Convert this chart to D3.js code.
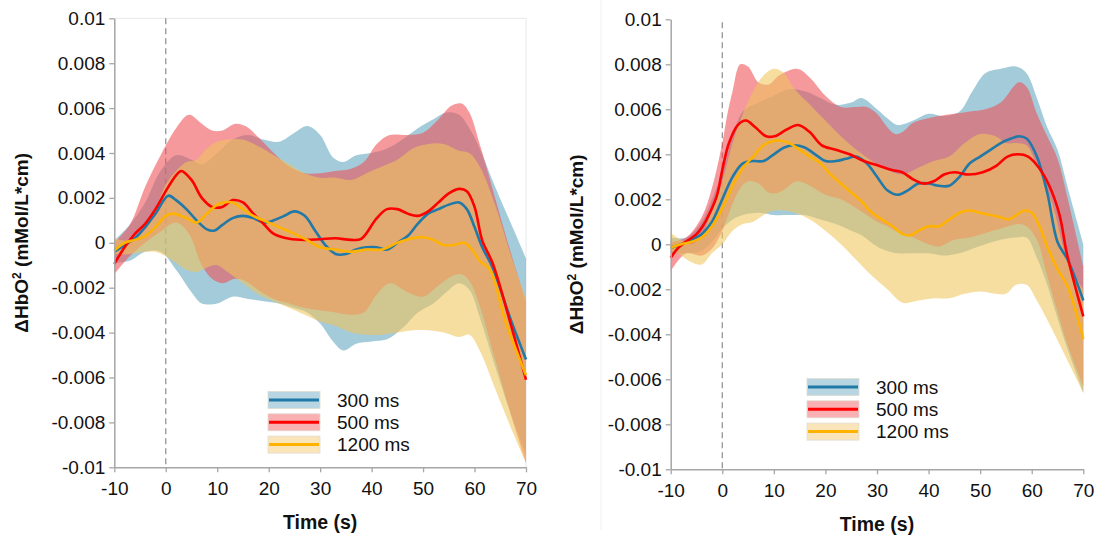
<!DOCTYPE html>
<html>
<head>
<meta charset="utf-8">
<script src="https://cdn.jsdelivr.net/npm/d3@7"></script>
<style>
  body { margin: 0; background: #fff; }
  svg { display: block; font-family: "Liberation Sans", Arial, sans-serif; }
</style>
</head>
<body>
<svg id="chart" width="1097" height="536"></svg>
<script>
// ---- data: [time, value] for means, [time, low, high] for bands ----
const seriesNames = ["300 ms", "500 ms", "1200 ms"];
const xTicks = [-10, 0, 10, 20, 30, 40, 50, 60, 70];
const yTicks = [0.01, 0.008, 0.006, 0.004, 0.002, 0, -0.002, -0.004, -0.006, -0.008, -0.01];

// left panel
const leftMean300 = [[-10,-0.0004],[-8,-0.0001],[-6,0.0002],[-4,0.0007],[-2,0.0013],[0.5,0.0021],[2,0.0019],[4,0.0015],[6,0.001],[8,0.0006],[9.5,0.00055],[11,0.0008],[13,0.0011],[15,0.0012],[17,0.0011],[19,0.0009],[21,0.001],[23,0.0012],[25,0.0014],[27,0.0012],[29,0.00055],[31,-0.0001],[33,-0.0005],[35,-0.0005],[37,-0.0003],[39,-0.0002],[41,-0.0002],[43,-0.0003],[45,0],[47,0.0003],[49,0.00085],[51,0.0013],[53,0.0015],[55,0.0017],[57,0.0018],[58.5,0.0015],[60,0.0007],[61.5,-0.0002],[63.5,-0.0011],[67,-0.0034],[70,-0.0052]];
const leftMean500 = [[-10,-0.00094],[-8,-0.0002],[-6,0.0004],[-4,0.00085],[-2,0.0015],[0,0.0023],[2,0.003],[3,0.0032],[5,0.0028],[7,0.002],[9,0.0016],[11,0.0016],[13,0.0019],[15,0.0018],[17,0.0013],[19,0.00085],[21,0.0004],[24,0.00018],[27,0.00013],[30,0.00016],[33,0.0002],[36,0.00013],[38,0.00018],[41,0.0011],[43,0.0015],[45,0.0015],[47,0.0013],[49,0.0012],[51,0.0014],[53,0.0018],[55,0.0022],[57,0.0024],[58.5,0.0023],[60,0.0016],[61.5,0.0001],[63.5,-0.0009],[67,-0.0036],[70,-0.0061]];
const leftMean1200 = [[-10,-0.00035],[-8,0],[-6,0.00013],[-4,0.0003],[-2,0.0007],[0,0.0012],[1.5,0.0013],[4,0.0011],[6,0.0009],[8,0.0013],[10,0.0017],[11.5,0.0018],[13,0.0018],[15,0.0015],[17,0.0012],[19,0.001],[21,0.0008],[23,0.0006],[25,0.0004],[27,0.00018],[30,-0.0002],[33,-0.0003],[36,-0.0004],[39,-0.0003],[42,-0.0003],[45,0],[48,0.0002],[50,0.00025],[52,0.00013],[54,-0.0001],[56,-0.0001],[58,0],[59.5,-0.0003],[61,-0.0008],[63,-0.0012],[66,-0.0035],[70,-0.0059]];
const leftBand300 = [[-10,-0.0009,0.0001],[-7,-0.0008,0.0008],[-4,-0.0004,0.0018],[-1,-0.0004,0.0032],[2,-0.0012,0.0039],[5,-0.0022,0.0037],[7,-0.0027,0.0035],[10,-0.0027,0.004],[13,-0.0024,0.0046],[16,-0.0025,0.0048],[19,-0.0026,0.0046],[22,-0.0027,0.0045],[25,-0.0029,0.0049],[27.5,-0.0031,0.0052],[30,-0.0036,0.0048],[32.5,-0.0044,0.0038],[34.5,-0.0048,0.0036],[37,-0.0045,0.0039],[40,-0.0044,0.004],[43,-0.0043,0.0042],[46,-0.0038,0.0046],[49,-0.0031,0.0051],[52,-0.0027,0.0055],[54.5,-0.0022,0.0058],[57,-0.0018,0.0057],[59,-0.0021,0.0051],[61,-0.0033,0.0042],[64,-0.0055,0.0025],[67,-0.0076,0.0009],[70,-0.0094,-0.0007]];
const leftBand500 = [[-10,-0.0014,0],[-7,-0.0006,0.0008],[-4,0,0.0025],[-1,0.0005,0.0039],[2,0.0009,0.0051],[4.5,0.0004,0.0057],[7,-0.001,0.0053],[9,-0.0016,0.005],[11,-0.0018,0.005],[13.5,-0.0016,0.0053],[15.5,-0.0017,0.0052],[18,-0.0021,0.0047],[21,-0.0025,0.004],[24,-0.0027,0.0034],[27,-0.0029,0.0031],[30,-0.003,0.0031],[33,-0.0031,0.0032],[36,-0.0032,0.0033],[38.5,-0.0031,0.0036],[41,-0.0023,0.0044],[43.5,-0.0018,0.0048],[47,-0.0022,0.0048],[50,-0.0024,0.0049],[53,-0.0019,0.0055],[55.5,-0.0015,0.0061],[57.5,-0.0014,0.0062],[59,-0.0017,0.0058],[61,-0.0028,0.0044],[64,-0.0052,0.002],[67,-0.0076,-0.0004],[70,-0.0098,-0.0026]];
const leftBand1200 = [[-10,-0.0005,0.0002],[-7,-0.0005,0.0001],[-4,-0.0004,0.0006],[-2,-0.0004,0.0015],[0,-0.0006,0.0026],[2,-0.0009,0.0032],[4,-0.0012,0.0036],[6,-0.0013,0.0037],[8,-0.0011,0.0042],[10,-0.001,0.0045],[12,-0.0013,0.0046],[15,-0.0018,0.0046],[18,-0.0023,0.0043],[21,-0.0026,0.0039],[24,-0.0029,0.0035],[27,-0.0032,0.0031],[30,-0.0035,0.0029],[33,-0.0037,0.0029],[36,-0.004,0.0028],[39,-0.0041,0.0031],[42,-0.0041,0.0034],[45,-0.004,0.0037],[48,-0.0039,0.0042],[51,-0.0039,0.0044],[54,-0.004,0.0044],[57,-0.0042,0.0041],[59,-0.0041,0.004],[61,-0.0048,0.0034],[64,-0.0065,0.0017],[67,-0.0082,-0.0005],[70,-0.0098,-0.0025]];

// right panel
const rightMean300 = [[-10,-0.00015],[-8,0],[-6,0.0002],[-4,0.00045],[-2,0.001],[0,0.002],[2,0.003],[4,0.0036],[6,0.0037],[8,0.0037],[10,0.004],[12,0.0043],[14,0.0044],[16,0.0043],[18,0.004],[20,0.0037],[22,0.0037],[24,0.0038],[26,0.0039],[28,0.0036],[30,0.003],[32,0.0024],[34,0.0022],[36,0.0024],[38,0.0027],[40,0.0027],[42,0.0026],[44,0.0026],[46,0.003],[48,0.0036],[50,0.0039],[52,0.0042],[54,0.0045],[56,0.0047],[57.5,0.0048],[59,0.0047],[61,0.0039],[63,0.0023],[65,0.0001],[67,-0.0007],[70,-0.0025]];
const rightMean500 = [[-10,-0.0006],[-8.5,-0.00015],[-6.5,0.0002],[-5,0.00045],[-3.8,0.0008],[-2.4,0.0014],[-1,0.0022],[0,0.0033],[1.3,0.0045],[3,0.0053],[4.6,0.0055],[6.4,0.0052],[8.5,0.0048],[10.1,0.0048],[12.5,0.0051],[14.7,0.0053],[16.9,0.005],[19.3,0.0044],[22,0.0042],[24.7,0.004],[27.4,0.0037],[30.2,0.0035],[32.9,0.0033],[34.9,0.0032],[36.9,0.0029],[39,0.0027],[41,0.0028],[43,0.0031],[45,0.0032],[47.8,0.0031],[50.5,0.0032],[53.2,0.0035],[55.3,0.0039],[57.3,0.004],[59.3,0.0039],[61.4,0.0034],[63.4,0.0026],[65.4,0.0013],[66.8,-0.0004],[70,-0.0032]];
const rightMean1200 = [[-10,-0.00015],[-8,0],[-6,0.0001],[-4,0.0003],[-2,0.0008],[0,0.0016],[2,0.0026],[4,0.0034],[6,0.0039],[8,0.0044],[10,0.0046],[11.5,0.0046],[13,0.0045],[15,0.0042],[17,0.0039],[19,0.0036],[21,0.0031],[23,0.0027],[25,0.0023],[27,0.0019],[29,0.0014],[31,0.0011],[33,0.0008],[35,0.00045],[36.5,0.0004],[38,0.0006],[40,0.0008],[42,0.0008],[44,0.0011],[46,0.0014],[48,0.0015],[50,0.0014],[52,0.0013],[54,0.0012],[55.5,0.0011],[57,0.0013],[58.5,0.0015],[60,0.0014],[61.5,0.0008],[63,-0.0001],[65,-0.0011],[67,-0.0019],[70,-0.0042]];
const rightBand300 = [[-10,-0.0004,0.0003],[-7,-0.0004,0.0003],[-4,-0.0003,0.001],[-2,0.0001,0.002],[0,0.0007,0.0032],[2,0.0011,0.0048],[4,0.0013,0.0059],[7,0.0014,0.0063],[10,0.0013,0.0066],[13,0.0013,0.0069],[16,0.0013,0.0068],[19,0.0011,0.0065],[22,0.0009,0.0062],[25,0.0006,0.0063],[27,0.0004,0.0065],[30,-0.0001,0.006],[32,-0.0003,0.0056],[34,-0.0004,0.0053],[37,-0.0004,0.0055],[40,-0.0004,0.0058],[43,-0.0005,0.0057],[46,-0.0004,0.0059],[48.5,-0.0002,0.0068],[51,0,0.0076],[54,0.0002,0.0078],[57,0.0003,0.0079],[59,0.0003,0.0076],[61,-0.0006,0.0065],[63,-0.0018,0.0052],[65,-0.0033,0.0042],[67,-0.0047,0.0025],[70,-0.0066,0]];
const rightBand500 = [[-10,-0.0012,0.0001],[-7,-0.0004,0.0003],[-4,-0.0005,0.0012],[-2,-0.0002,0.0025],[0,0.0006,0.0045],[1,0.0012,0.0058],[2,0.0018,0.0068],[3.5,0.0025,0.008],[5,0.0028,0.0079],[7,0.0027,0.0072],[9,0.0023,0.0071],[11,0.0023,0.0075],[14.5,0.0028,0.0078],[17,0.0026,0.0074],[20,0.0022,0.0066],[23,0.002,0.0061],[26,0.0016,0.0061],[28,0.0013,0.0061],[30,0.001,0.0058],[32,0.0008,0.0052],[33.5,0.0006,0.0049],[35,0.0005,0.005],[37,0.0003,0.0054],[40,0,0.0056],[42,-0.0001,0.0057],[45,0.0002,0.0058],[48,0.0003,0.0059],[51,0.0005,0.006],[54,0.0007,0.0063],[57.5,0.0009,0.0072],[59,0.0008,0.007],[61,0.0002,0.0058],[63,-0.0014,0.0048],[65,-0.003,0.0038],[67,-0.0045,0.002],[70,-0.0063,-0.001]];
const rightBand1200 = [[-10,-0.0003,0.0005],[-8,-0.0005,0.0002],[-6,-0.0008,0],[-4,-0.0009,0.0004],[-2,-0.0004,0.0015],[0,0,0.0028],[2,0.0006,0.0045],[4,0.0009,0.0058],[6,0.001,0.0068],[8,0.0013,0.0075],[10,0.0015,0.0078],[12,0.0015,0.0076],[14,0.0014,0.0069],[17,0.0011,0.0062],[20,0.0006,0.0055],[23,0,0.0048],[26,-0.0007,0.0042],[29,-0.0014,0.0037],[32,-0.002,0.0033],[35,-0.0026,0.0031],[38,-0.0025,0.0034],[41,-0.0024,0.0037],[44,-0.0024,0.0039],[47,-0.0022,0.0045],[50,-0.0021,0.0049],[53,-0.0022,0.0048],[55,-0.0022,0.0045],[57,-0.0018,0.0045],[59,-0.0018,0.0044],[61,-0.0025,0.0035],[64,-0.0038,0.0018],[67,-0.0052,-0.0008],[70,-0.0066,-0.002]];

// ---- style ----
const lineColors = ["#2179a8", "#ff0000", "#ffb300"];
const bandColors = ["#62a6c0", "#ee4f57", "#f0c45c"];
const swatchColors = ["#b7d6e1", "#f9b0b2", "#f9e5b9"];

const svg = d3.select("#chart");
svg.append("rect").attr("width", 1097).attr("height", 536).attr("fill", "#fff");

// faint separator between the two figures
svg.append("line")
    .attr("x1", 601).attr("x2", 601).attr("y1", 0).attr("y2", 530)
    .attr("stroke", "#f0f0f0").attr("stroke-width", 1);

const fmt = d => d === 0 ? "0" : String(+d.toFixed(3));

function drawPanel(opt) {
    const x = d3.scaleLinear().domain([-10, 70]).range([opt.left, opt.right]);
    const y = d3.scaleLinear().domain([-0.01, 0.01]).range([opt.bottom, opt.top]);
    const g = svg.append("g");

    if (opt.frame) {
        g.append("path")
            .attr("d", `M${opt.left},${opt.top}H${opt.right}V${opt.bottom}`)
            .attr("fill", "none").attr("stroke", "#e8e8e8").attr("stroke-width", 1);
    }

    // dashed stimulus onset
    g.append("line")
        .attr("x1", x(0)).attr("x2", x(0))
        .attr("y1", opt.top + opt.dashOffset).attr("y2", opt.bottom)
        .attr("stroke", "#8c8c8c").attr("stroke-width", 1.2)
        .attr("stroke-dasharray", "6,4");

    const area = d3.area()
        .x(d => x(d[0])).y0(d => y(d[1])).y1(d => y(d[2]))
        .curve(d3.curveCatmullRom.alpha(0.5));
    const line = d3.line()
        .x(d => x(d[0])).y(d => y(d[1]))
        .curve(d3.curveCatmullRom.alpha(0.5));

    opt.bands.forEach((b, i) => {
        g.append("path").attr("d", area(b))
            .attr("fill", bandColors[i]).attr("fill-opacity", 0.58);
    });
    opt.means.forEach((m, i) => {
        g.append("path").attr("d", line(m))
            .attr("fill", "none").attr("stroke", lineColors[i]).attr("stroke-width", 2.6);
    });

    // axes
    const xAxis = g.append("g")
        .attr("transform", `translate(0,${opt.bottom})`)
        .call(d3.axisBottom(x).tickValues(xTicks).tickSize(5).tickSizeOuter(0).tickPadding(9).tickFormat(d => String(d)));
    const yAxis = g.append("g")
        .attr("transform", `translate(${opt.left},0)`)
        .call(d3.axisLeft(y).tickValues(yTicks).tickSize(5).tickSizeOuter(0).tickPadding(4).tickFormat(fmt));
    [xAxis, yAxis].forEach(a => {
        a.select(".domain").attr("stroke", "#a6a6a6").attr("stroke-width", 1.5);
        a.selectAll(".tick line").attr("stroke", "#a6a6a6").attr("stroke-width", 1.3);
        a.selectAll("text").attr("fill", "#111").style("font-size", "19px")
            .style("font-family", "'Liberation Sans', Arial, sans-serif");
    });

    // titles
    g.append("text")
        .attr("x", (opt.left + opt.right) / 2).attr("y", opt.bottom + 62)
        .attr("text-anchor", "middle")
        .style("font-size", "19.5px").style("font-weight", "bold").attr("fill", "#111")
        .text("Time (s)");

    const yt = g.append("text")
        .attr("transform", `translate(${opt.left - opt.titleGap},${(opt.top + opt.bottom) / 2}) rotate(-90)`)
        .attr("text-anchor", "middle")
        .style("font-size", "19px").style("font-weight", "bold").attr("fill", "#111");
    yt.append("tspan").text("ΔHbO");
    yt.append("tspan").attr("dy", -7).style("font-size", "12px").text("2");
    yt.append("tspan").attr("dy", 7).text(" (mMol/L*cm)");

    // legend
    const lg = g.append("g").attr("transform", `translate(${opt.legendX},${opt.legendY})`);
    seriesNames.forEach((name, i) => {
        const row = lg.append("g").attr("transform", `translate(0,${i * 22.3})`);
        row.append("rect")
            .attr("x", 0).attr("y", -8.5).attr("width", 52).attr("height", 17)
            .attr("fill", swatchColors[i]).attr("stroke", "#e2dcd0").attr("stroke-width", 0.8);
        row.append("line")
            .attr("x1", 1).attr("x2", 51).attr("y1", 0).attr("y2", 0)
            .attr("stroke", lineColors[i]).attr("stroke-width", 3);
        row.append("text")
            .attr("x", 69).attr("y", 0).attr("dy", "0.35em")
            .style("font-size", "19px").attr("fill", "#111")
            .text(name);
    });
}

drawPanel({
    left: 114.3, right: 526, top: 18.3, bottom: 467.3,
    frame: true, dashOffset: 0, titleGap: 86,
    bands: [leftBand300, leftBand500, leftBand1200],
    means: [leftMean300, leftMean500, leftMean1200],
    legendX: 268, legendY: 400
});

drawPanel({
    left: 670.7, right: 1083.3, top: 19.3, bottom: 469.3,
    frame: false, dashOffset: 3, titleGap: 88,
    bands: [rightBand300, rightBand500, rightBand1200],
    means: [rightMean300, rightMean500, rightMean1200],
    legendX: 807, legendY: 387
});
</script>
</body>
</html>
